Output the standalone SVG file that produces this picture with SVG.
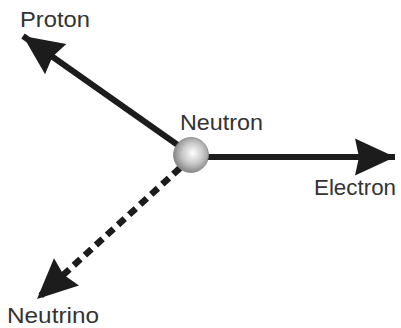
<svg xmlns="http://www.w3.org/2000/svg" width="401" height="328" viewBox="0 0 401 328">
<defs>
<style>
.lbl{font-family:"Liberation Sans",Arial,sans-serif;font-size:21.5px;fill:#333}
.arr{stroke:#1c1c1c;stroke-width:6;fill:none}
.dash{stroke-dasharray:9 6;stroke-width:6.5}
</style>
<marker id="head" markerUnits="userSpaceOnUse" markerWidth="50" markerHeight="44" viewBox="-42 -22 44 44" refX="0" refY="0" orient="auto">
<path d="M0,0 L-40,-18.5 L-36,0 L-40,18.5 Z" fill="#1c1c1c"/>
</marker>
<radialGradient id="ball" cx="0.55" cy="0.45" r="0.6">
<stop offset="0" stop-color="#ffffff"/>
<stop offset="0.5" stop-color="#c8c8c8"/>
<stop offset="1" stop-color="#7a7a7a"/>
</radialGradient>
</defs>
<g id="connectors">
<line class="arr" x1="182" y1="148" x2="23" y2="36" marker-end="url(#head)"/>
<line class="arr" x1="205" y1="157" x2="395" y2="157" marker-end="url(#head)"/>
<line class="arr dash" x1="180" y1="168" x2="37" y2="299" marker-end="url(#head)"/>
</g>
<g id="neutron">
<circle cx="191" cy="155" r="17.5" fill="url(#ball)" stroke="#888" stroke-width="0.8"/>
<text class="lbl" x="180" y="130" textLength="83" lengthAdjust="spacingAndGlyphs">Neutron</text>
</g>
<g id="proton"><text class="lbl" x="20" y="27" textLength="70" lengthAdjust="spacingAndGlyphs">Proton</text></g>
<g id="electron"><text class="lbl" x="314" y="195" textLength="82" lengthAdjust="spacingAndGlyphs">Electron</text></g>
<g id="neutrino"><text class="lbl" x="7" y="323" textLength="92" lengthAdjust="spacingAndGlyphs">Neutrino</text></g>
</svg>
